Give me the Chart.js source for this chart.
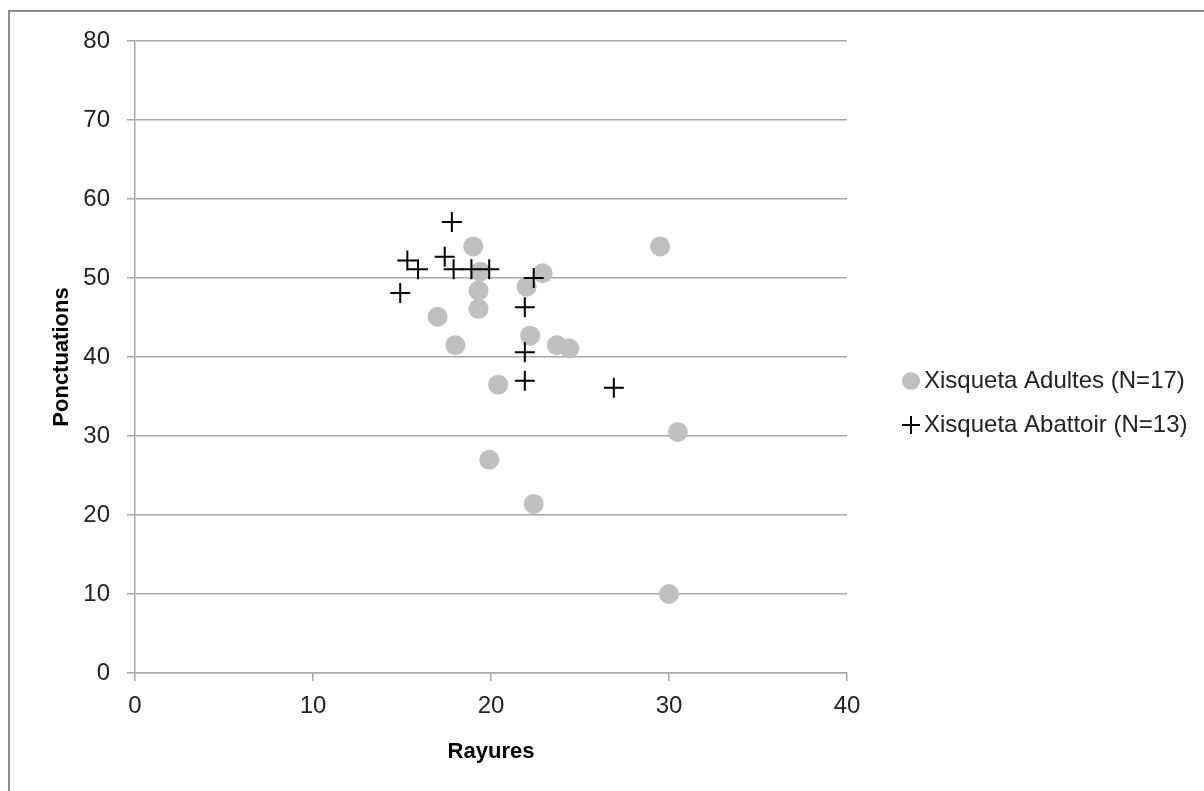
<!DOCTYPE html>
<html><head><meta charset="utf-8">
<script src="https://cdn.jsdelivr.net/npm/chart.js@4"></script>
<style>
html,body{margin:0;padding:0;background:#fff;overflow:hidden;width:1204px;height:791px}
#frame{position:absolute;left:8px;top:10px;width:1300px;height:900px;border:2px solid #8c8c8c;box-sizing:border-box;z-index:0}
#c{position:absolute;left:0;top:0;z-index:1}
</style></head><body>
<div id="frame"></div>
<canvas id="c" width="1204" height="791"></canvas>
<script>
const seriesNames = ['Xisqueta Adultes (N=17)', 'Xisqueta Abattoir (N=13)'];
const adultesX = [19.0, 22.9, 19.4, 19.3, 19.3, 17.0, 22.0, 18.0, 22.2, 23.7, 24.4, 20.4, 19.9, 22.4, 29.5, 30.5, 30.0];
const adultesY = [54.0, 50.6, 50.8, 48.4, 46.1, 45.1, 48.9, 41.5, 42.7, 41.5, 41.1, 36.5, 27.0, 21.4, 54.0, 30.5, 10.0];
const abattoirX = [17.8, 15.3, 15.9, 17.4, 17.9, 18.9, 19.9, 14.9, 22.4, 21.9, 21.9, 21.9, 26.9];
const abattoirY = [57.1, 52.2, 51.1, 52.7, 51.1, 51.1, 51.1, 48.1, 50.0, 46.3, 40.6, 37.0, 36.1];
const xTitle = 'Rayures';
const yTitle = 'Ponctuations';
const xRange = [0, 40, 10];
const yRange = [0, 80, 10];

const FONT = "'Liberation Sans', Arial, sans-serif";
const GRID = '#a8a8a8';
const TXT = '#222222';

const toPts = (xs, ys) => xs.map((x, i) => ({x: x, y: ys[i]}));

const legendPlugin = {
  id: 'sideLegend',
  afterDraw(chart) {
    const ctx = chart.ctx;
    ctx.save();
    ctx.font = '24px ' + FONT;
    ctx.fillStyle = TXT;
    ctx.textBaseline = 'middle';
    ctx.textAlign = 'left';
    const mx = 911, tx = 924, y1 = 381, y2 = 425;
    ctx.beginPath();
    ctx.arc(mx, y1, 9, 0, Math.PI * 2);
    ctx.fillStyle = '#c0c0c0';
    ctx.fill();
    ctx.fillStyle = TXT;
    ctx.fillText(seriesNames[0], tx, y1);
    ctx.beginPath();
    ctx.strokeStyle = '#000';
    ctx.lineWidth = 2;
    ctx.moveTo(mx - 9, y2); ctx.lineTo(mx + 9, y2);
    ctx.moveTo(mx, y2 - 9); ctx.lineTo(mx, y2 + 9);
    ctx.stroke();
    ctx.fillText(seriesNames[1], tx, y2);
    ctx.restore();
  }
};

new Chart(document.getElementById('c'), {
  type: 'scatter',
  data: {
    datasets: [
      {
        label: seriesNames[0],
        data: toPts(adultesX, adultesY),
        pointStyle: 'circle',
        pointRadius: 10,
        pointHoverRadius: 10,
        backgroundColor: '#c0c0c0',
        borderColor: '#c0c0c0',
        borderWidth: 0,
        order: 2
      },
      {
        label: seriesNames[1],
        data: toPts(abattoirX, abattoirY),
        pointStyle: 'cross',
        pointRadius: 10,
        pointHoverRadius: 10,
        borderColor: '#000000',
        backgroundColor: '#000000',
        borderWidth: 2,
        order: 1
      }
    ]
  },
  options: {
    responsive: false,
    animation: false,
    events: [],
    layout: { padding: { top: 41, right: 357, left: 0, bottom: 0 } },
    plugins: { legend: { display: false }, tooltip: { enabled: false } },
    scales: {
      x: {
        type: 'linear',
        min: xRange[0], max: xRange[1],
        afterFit(s) { s.height = 118; },
        ticks: { stepSize: xRange[2], padding: 11, color: TXT, font: { family: FONT, size: 24 } },
        grid: { drawOnChartArea: false, drawTicks: true, tickLength: 8, color: GRID, lineWidth: 1.5 },
        border: { display: true, color: GRID, width: 1.5 },
        title: { display: true, text: xTitle, color: '#000', font: { family: FONT, size: 22, weight: 'bold' }, padding: { top: 0, bottom: 26 } }
      },
      y: {
        type: 'linear',
        min: yRange[0], max: yRange[1],
        afterFit(s) { s.width = 135; },
        ticks: { stepSize: yRange[2], padding: 17, color: TXT, font: { family: FONT, size: 24 } },
        grid: { drawOnChartArea: true, drawTicks: true, tickLength: 8, color: GRID, lineWidth: 1.5 },
        border: { display: true, color: GRID, width: 1.5 },
        title: { display: true, text: yTitle, color: '#000', font: { family: FONT, size: 22, weight: 'bold' }, padding: { top: 49, bottom: 0 } }
      }
    }
  },
  plugins: [legendPlugin]
});
</script>
</body></html>
